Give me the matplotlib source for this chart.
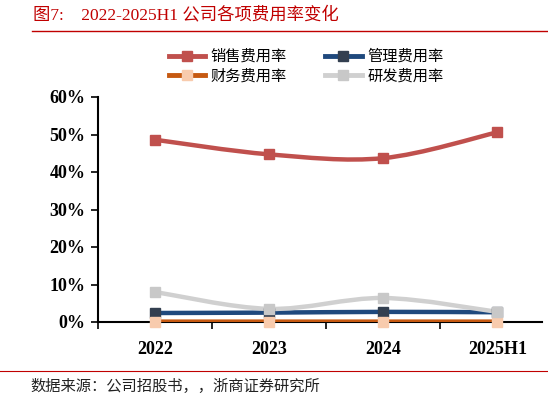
import numpy as np
import matplotlib.pyplot as plt
from matplotlib.path import Path
from matplotlib.patches import PathPatch
from matplotlib.lines import Line2D

plt.rcParams['font.family'] = ['Liberation Serif', 'Noto Sans CJK SC']

# 数据
years = ['2022', '2023', '2024', '2025H1']
sales_rate = [48.6, 44.7, 43.7, 50.6]
admin_rate = [2.4, 2.5, 2.7, 2.6]
finance_rate = [0.1, 0.1, 0.1, 0.1]
rd_rate = [8.0, 3.5, 6.4, 2.7]

series = [
    ('销售费用率', sales_rate, '#C0504D', '#C0504D'),
    ('管理费用率', admin_rate, '#1F497D', '#333F50'),
    ('财务费用率', finance_rate, '#C65911', '#F8CBAD'),
    ('研发费用率', rd_rate, '#D0D0D0', '#C8C8C8'),
]


def smooth_path(x, y):
    # Catmull-Rom 转三次贝塞尔，模拟 Excel 平滑线
    pts = np.column_stack([x, y])
    ext = np.vstack([pts[0], pts, pts[-1]])
    verts = [pts[0]]
    codes = [Path.MOVETO]
    for i in range(len(pts) - 1):
        p0, p1, p2, p3 = ext[i], ext[i + 1], ext[i + 2], ext[i + 3]
        verts += [p1 + (p2 - p0) / 6, p2 - (p3 - p1) / 6, p2]
        codes += [Path.CURVE4] * 3
    return Path(verts, codes)


fig = plt.figure(figsize=(5.48, 4.01), dpi=100)
ax = fig.add_axes([98 / 548, 1 - 322 / 401, 444 / 548, 225 / 401])

x = np.arange(len(years))
handles = []
for name, vals, lc, mc in series:
    y = np.array(vals) / 100
    ax.add_patch(PathPatch(smooth_path(x, y), fill=False, edgecolor=lc, lw=3.2,
                           capstyle='round', zorder=3))
    ax.plot(x, y, ls='none', marker='s', ms=7, color=mc, zorder=4, clip_on=False)
    handles.append(Line2D([], [], color=lc, lw=3.5, marker='s', ms=6.5,
                          markerfacecolor=mc, markeredgecolor=mc))

ax.set_xlim(-0.5, 3.39)
ax.set_ylim(0, 0.6)
ax.set_yticks(np.arange(0, 0.61, 0.1))
ax.set_yticklabels([f'{int(v * 100)}%' for v in np.arange(0, 0.61, 0.1)],
                   fontsize=13, fontweight='bold')
ax.set_xticks(x)
ax.set_xticklabels(years, fontsize=13, fontweight='bold')
ax.set_xticks([-0.5, 0.5, 1.5, 2.5], minor=True)
ax.tick_params(axis='x', which='major', length=0, pad=14)
ax.tick_params(axis='x', which='minor', length=5, width=1.2, direction='out')
ax.tick_params(axis='y', length=5, width=1.2, direction='out', pad=4)
for s in ['top', 'right']:
    ax.spines[s].set_visible(False)
ax.spines['left'].set_linewidth(1.5)
ax.spines['bottom'].set_linewidth(1.5)

# 图例按行排列：第一行 销售/管理，第二行 财务/研发
order = [0, 2, 1, 3]
fig.legend([handles[i] for i in order], [series[i][0] for i in order],
           ncol=2, loc='center', bbox_to_anchor=(306 / 548, 1 - 66 / 401),
           frameon=False, prop={'family': 'Noto Sans CJK SC', 'size': 11},
           handlelength=2.4, columnspacing=2.5, handletextpad=0.35,
           labelspacing=0.15)

fig.text(33 / 548, 1 - 15 / 401, '图7:    2022-2025H1 公司各项费用率变化',
         color='#C00000', fontsize=12.5, va='center', ha='left')
fig.add_artist(Line2D([32 / 548, 1], [1 - 31 / 401] * 2, color='#C00000', lw=1))
fig.add_artist(Line2D([0, 1], [1 - 371 / 401] * 2, color='#C00000', lw=0.8))
fig.text(30 / 548, 1 - 386 / 401, '数据来源：公司招股书，，浙商证券研究所',
         color='#222222', fontsize=11, va='center', ha='left',
         family=['Noto Sans CJK SC'])

fig.savefig('out.png', dpi=100)
